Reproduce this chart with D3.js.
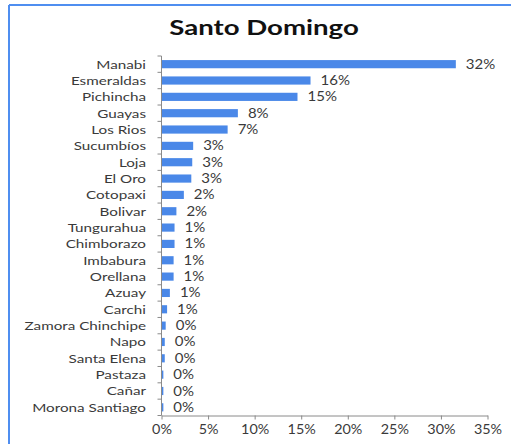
<!DOCTYPE html>
<html>
<head>
<meta charset="utf-8">
<script src="https://cdn.jsdelivr.net/npm/d3@7"></script>
<style>
  html, body { margin: 0; padding: 0; background: #fff; }
  svg { display: block; }
</style>
</head>
<body>
<svg id="chart" width="511" height="444"></svg>
<script>
// Provinces of origin, share of residents (fraction)
const provinces = [
  "Manabi", "Esmeraldas", "Pichincha", "Guayas", "Los Rios", "Sucumbíos",
  "Loja", "El Oro", "Cotopaxi", "Bolivar", "Tungurahua", "Chimborazo",
  "Imbabura", "Orellana", "Azuay", "Carchi", "Zamora Chinchipe", "Napo",
  "Santa Elena", "Pastaza", "Cañar", "Morona Santiago"
];
const shares = [
  0.316, 0.160, 0.146, 0.082, 0.071, 0.034,
  0.033, 0.032, 0.024, 0.016, 0.014, 0.014,
  0.013, 0.013, 0.009, 0.006, 0.0045, 0.0035,
  0.0035, 0.002, 0.002, 0.002
];
const xTicks = [0, 0.05, 0.10, 0.15, 0.20, 0.25, 0.30, 0.35];
const title = "Santo Domingo";

const svg = d3.select("#chart");
const font = "Lato, 'Open Sans', sans-serif";
const textColor = "#3a3a3a";

// Place text at (px, py) with a horizontal stretch factor
function place(sel, px, py, sx) {
  sel.attr("x", 0).attr("y", 0)
    .attr("transform", (d, i) => `translate(${px(d, i)},${py(d, i)}) scale(${sx},1)`);
}

// Frame lines along the top and left edges
svg.append("line").attr("x1", 9).attr("x2", 511).attr("y1", 5).attr("y2", 5)
  .attr("stroke", "#4f8ef0").attr("stroke-width", 2);
svg.append("line").attr("x1", 9).attr("x2", 9).attr("y1", 5).attr("y2", 444)
  .attr("stroke", "#4f8ef0").attr("stroke-width", 2);

svg.append("text")
  .attr("text-anchor", "middle")
  .attr("font-family", font).attr("font-weight", "bold")
  .attr("font-size", 20).attr("fill", "#111")
  .text(title)
  .call(place, () => 264, () => 35, 1.38);

const data = provinces.map((p, i) => ({ name: p, value: shares[i] }));

const axisY = 415.5;
const x = d3.scaleLinear().domain([0, 0.35]).range([161.5, 487.5]);
const y = d3.scaleBand().domain(provinces).range([56, axisY]).paddingInner(0.5).paddingOuter(0.25);

// Bars
svg.append("g").selectAll("rect").data(data).join("rect")
  .attr("x", x(0))
  .attr("y", d => y(d.name))
  .attr("width", d => x(d.value) - x(0))
  .attr("height", y.bandwidth())
  .attr("fill", "#4a88e8");

// Value labels
svg.append("g").selectAll("text").data(data).join("text")
  .attr("dy", "0.36em")
  .attr("font-family", font).attr("font-size", 12.5).attr("fill", textColor)
  .text(d => d3.format(".0%")(d.value))
  .call(place, d => x(d.value) + 10, d => y(d.name) + y.bandwidth() / 2, 1.2);

// Category axis with ticks between bands
const yAxisG = svg.append("g");
yAxisG.append("line")
  .attr("x1", x(0)).attr("x2", x(0)).attr("y1", 56).attr("y2", axisY)
  .attr("stroke", "#8a8a8a");
const boundaries = d3.range(provinces.length + 1).map(i => 56 + i * (axisY - 56) / provinces.length);
yAxisG.selectAll("line.tk").data(boundaries).join("line").attr("class", "tk")
  .attr("x1", x(0) - 4).attr("x2", x(0))
  .attr("y1", d => d).attr("y2", d => d)
  .attr("stroke", "#8a8a8a");
yAxisG.selectAll("text").data(provinces).join("text")
  .attr("dy", "0.36em")
  .attr("text-anchor", "end")
  .attr("font-family", font).attr("font-size", 12).attr("fill", textColor)
  .text(d => d)
  .call(place, () => 146, d => y(d) + y.bandwidth() / 2, 1.27);

// Value axis
const xAxis = d3.axisBottom(x).tickValues(xTicks).tickFormat(d3.format(".0%"))
  .tickSizeInner(4).tickSizeOuter(0).tickPadding(5);
const xAxisG = svg.append("g").attr("transform", `translate(0,${axisY})`).call(xAxis);
xAxisG.select(".domain").attr("stroke", "#8a8a8a");
xAxisG.selectAll(".tick line").attr("stroke", "#8a8a8a");
xAxisG.selectAll(".tick text")
  .attr("font-family", font).attr("font-size", 12.5).attr("fill", textColor)
  .call(place, () => 0, () => 10, 1.15)
  .attr("dy", "0.71em");
</script>
</body>
</html>
